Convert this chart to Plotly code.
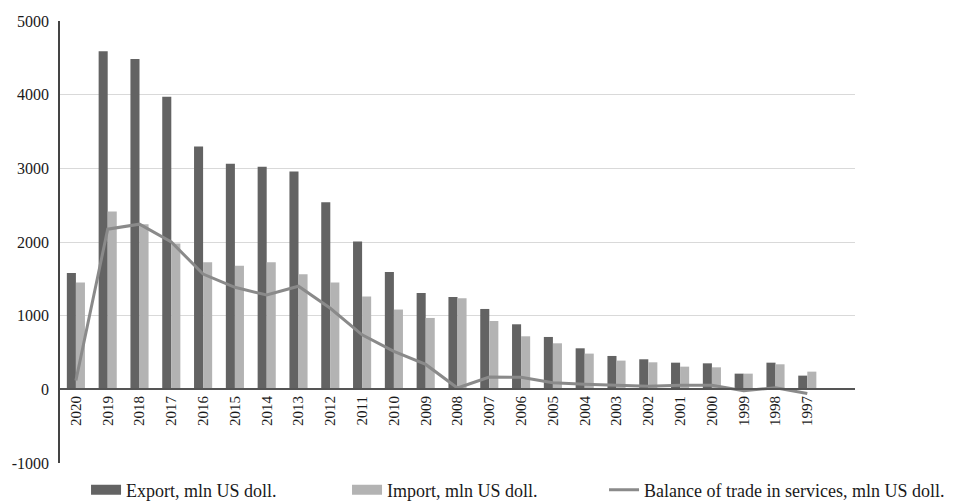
import plotly.graph_objects as go

years = ["2020", "2019", "2018", "2017", "2016", "2015", "2014", "2013", "2012", "2011",
         "2010", "2009", "2008", "2007", "2006", "2005", "2004", "2003", "2002", "2001",
         "2000", "1999", "1998", "1997"]
export = [1580, 4588, 4484, 3971, 3297, 3061, 3020, 2957, 2541, 2007,
          1594, 1309, 1254, 1091, 883, 711, 557, 453, 408, 362,
          353, 213, 362, 186]
import_ = [1450, 2414, 2242, 1980, 1725, 1676, 1725, 1562, 1450, 1259,
           1083, 969, 1236, 928, 720, 625, 485, 390, 367, 308,
           299, 213, 340, 240]
balance = [120, 2174, 2242, 2000, 1565, 1385, 1280, 1400, 1100, 740,
           515, 338, 18, 168, 163, 88, 70, 60, 41, 54,
           54, -18, 22, -56]
y_ticks = [-1000, 0, 1000, 2000, 3000, 4000, 5000]
y_tick_labels = ["-1000", "0", "1000", "2000", "3000", "4000", "5000"]

font_family = "Liberation Serif"
c_export = "#636363"
c_import = "#b3b3b3"
c_balance = "#8a8a8a"

fig = go.Figure()
fig.add_trace(go.Bar(x=years, y=export, name="Export, mln US doll.", showlegend=False,
                     marker=dict(color=c_export, line=dict(width=0))))
fig.add_trace(go.Bar(x=years, y=import_, name="Import, mln US doll.", showlegend=False,
                     marker=dict(color=c_import, line=dict(width=0))))
fig.add_trace(go.Scatter(x=years, y=balance, name="Balance of trade in services, mln US doll.",
                         mode="lines", line=dict(color=c_balance, width=3), showlegend=False))
# legend entries (rectangular swatches like the original)
fig.add_trace(go.Scatter(x=[None], y=[None], mode="lines", name="Export, mln US doll.",
                         line=dict(color=c_export, width=10), legend="legend"))
fig.add_trace(go.Scatter(x=[None], y=[None], mode="lines", name="Import, mln US doll.",
                         line=dict(color=c_import, width=10), legend="legend2"))
fig.add_trace(go.Scatter(x=[None], y=[None], mode="lines",
                         name="Balance of trade in services, mln US doll.",
                         line=dict(color=c_balance, width=3), legend="legend3"))

leg_common = dict(orientation="h", xref="container", y=-0.061, yanchor="middle",
                  xanchor="left", itemwidth=30, bgcolor="rgba(0,0,0,0)",
                  font=dict(size=18, family=font_family, color="#1a1a1a"))

fig.update_layout(
    width=947, height=493,
    margin=dict(l=52, r=100, t=13, b=38, autoexpand=False),
    plot_bgcolor="white", paper_bgcolor="white",
    barmode="group", bargap=0.43, bargroupgap=0,
    font=dict(family=font_family, color="#1a1a1a", size=15),
    showlegend=True,
    legend=dict(x=0.0824, **leg_common),
    legend2=dict(x=0.358, **leg_common),
    legend3=dict(x=0.6294, **leg_common),
    xaxis=dict(type="category", categoryorder="array", categoryarray=years,
               range=[-0.5, 24.5], tickangle=-90, showgrid=False,
               anchor="free", position=1/6, showline=True, linecolor="#555555", linewidth=1.5,
               ticks="", tickfont=dict(size=15, family=font_family, color="#1a1a1a")),
    yaxis=dict(range=[-1000, 5000], tickvals=y_ticks, ticktext=y_tick_labels,
               showgrid=True, gridcolor="#d9d9d9", gridwidth=1,
               zeroline=False, showline=True, linecolor="#444444", linewidth=1.5,
               ticks="", ticklabelstandoff=6,
               tickfont=dict(size=16, family=font_family, color="#1a1a1a")),
)

fig.write_html("out.html")
